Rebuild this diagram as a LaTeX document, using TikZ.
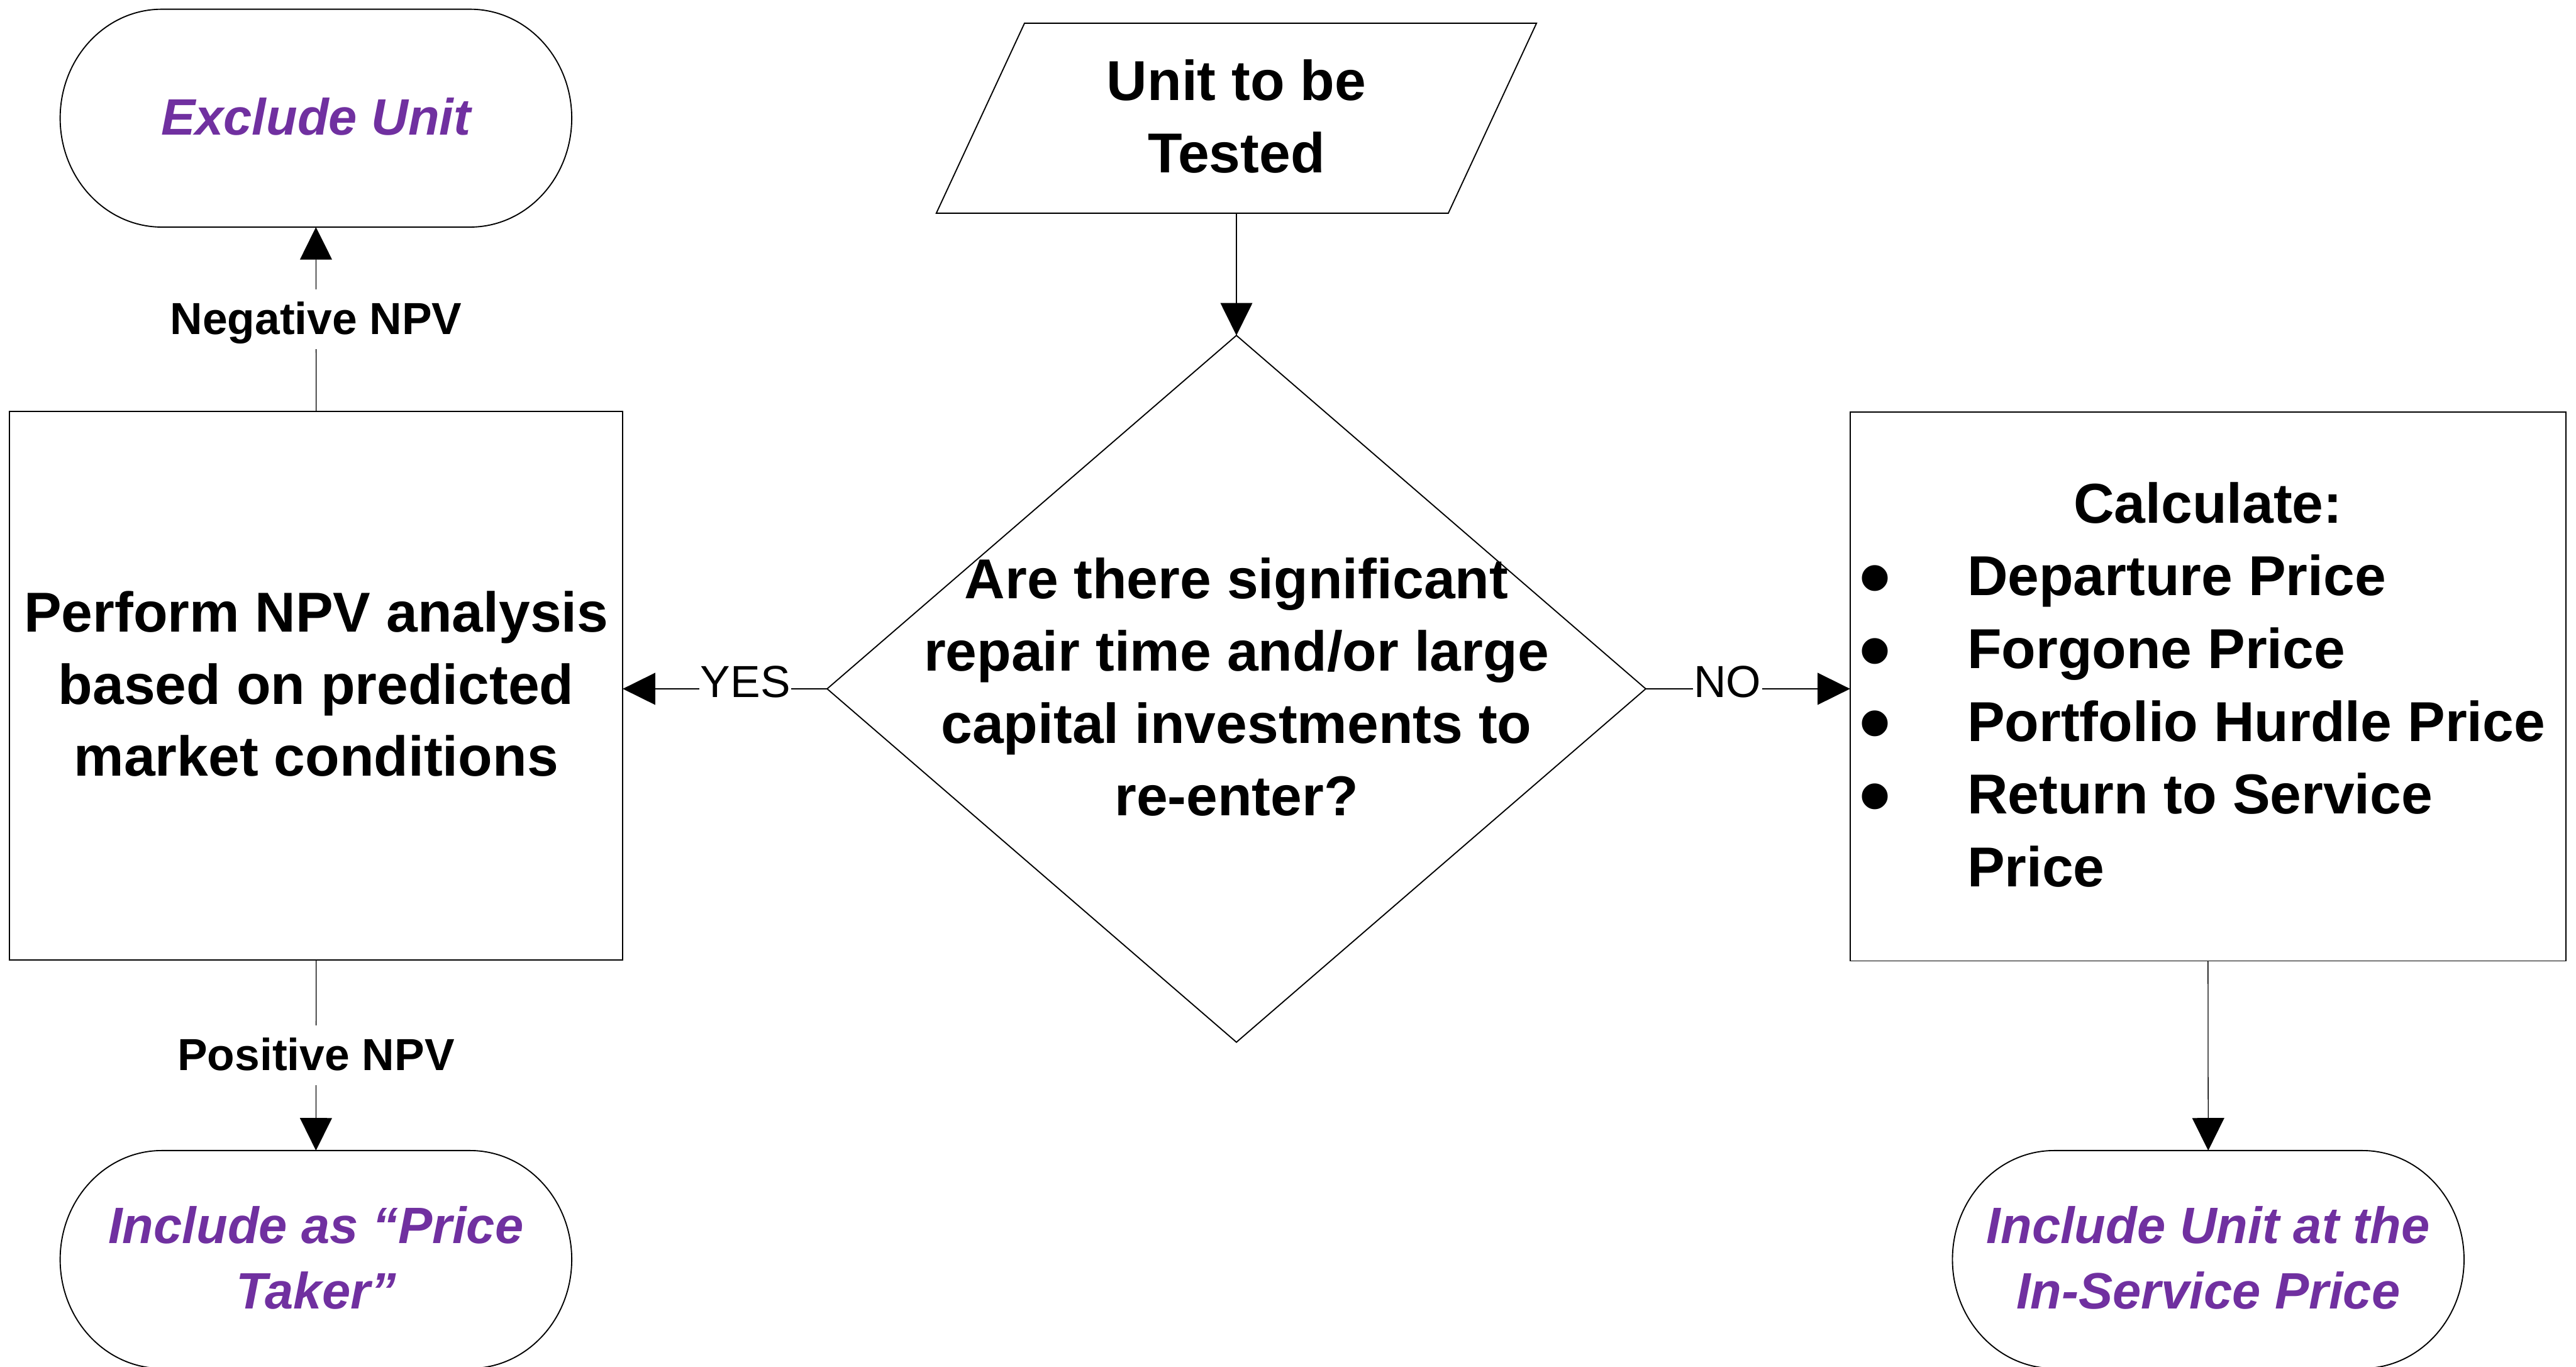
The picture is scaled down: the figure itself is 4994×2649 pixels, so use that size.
\documentclass[tikz,border=0pt]{standalone}
\usepackage{fontspec}
\setmainfont{Liberation Sans}
\usepackage{graphicx}
\usetikzlibrary{shapes.geometric,arrows.meta,calc}
\definecolor{vpurple}{HTML}{7030A0}
\newcommand\vstrut{\rule[-0.30em]{0pt}{1.25em}}
\newcommand\bul{\smash{\raisebox{-0.22em}{\scalebox{1.6}{\textbullet}}}}
\newcommand\termpath[1]{%
  \draw[shapeline] ($(#1.north west)+(197,0)$) -- ($(#1.north east)+(-197,0)$)
    arc[start angle=90,end angle=-90,x radius=1.97cm,y radius=2.11cm]
    -- ($(#1.south west)+(197,0)$)
    arc[start angle=270,end angle=90,x radius=1.97cm,y radius=2.11cm] -- cycle;}
\begin{document}
\begin{tikzpicture}[x=0.01cm,y=-0.01cm,
  every node/.style={outer sep=0pt},
  shapeline/.style={line width=0.65pt, draw=black},
  conn/.style={line width=0.45pt, -{Triangle[length=0.63cm,width=0.62cm]}},
  maintext/.style={font=\fontsize{31}{39.8}\selectfont\bfseries, align=center, inner sep=0pt},
  termtext/.style={font=\fontsize{28.2}{35.85}\selectfont\bfseries\itshape, text=vpurple, align=center, inner sep=0pt, minimum width=9.91cm, minimum height=4.22cm},
  edgelabel/.style={font=\fontsize{24.75}{30}\selectfont\bfseries, fill=white, inner xsep=0.02cm, inner ysep=0pt, text height=0.87cm, text depth=0.28cm},
  yesno/.style={font=\fontsize{24.75}{30}\selectfont, fill=white, inner xsep=0.02cm, inner ysep=0pt, text height=0.70cm, text depth=0.36cm},
]
\path[use as bounding box, fill=white] (0,0) rectangle (4994,2649);

% input parallelogram
\node[maintext, minimum width=9.92cm, minimum height=3.68cm] (unit) at (2397,229) {\vstrut Unit to be\\\vstrut Tested};
\draw[shapeline] ($(unit.north west)+(85.5,0)$) -- ($(unit.north east)+(85.5,0)$)
  -- ($(unit.south east)+(-85.5,0)$) -- ($(unit.south west)+(-85.5,0)$) -- cycle;

% decision
\node[maintext, shape=diamond, draw, shapeline, minimum width=15.86cm, minimum height=13.69cm,
  inner xsep=-8cm, inner ysep=-4cm] (dec) at (2397,1335)
  {\vstrut Are there significant\\\vstrut repair time and/or large\\\vstrut capital investments to\\\vstrut re-enter?};

% NPV process
\node[maintext, draw, shapeline, minimum width=11.88cm, minimum height=10.62cm] (npv) at (613,1329)
  {\vstrut Perform NPV analysis\\\vstrut based on predicted\\\vstrut market conditions};

% Calculate process
\node[maintext, draw, shapeline, align=left, font=\fontsize{31}{40.1}\selectfont\bfseries,
  minimum width=13.87cm, minimum height=10.63cm] (calc) at (4280.5,1330.5)
  {\makebox[13.87cm]{\vstrut Calculate:}\\
   \makebox[2.27cm][l]{\hspace*{0.49cm}\makebox[0pt]{\bul}}\vstrut Departure Price\\
   \makebox[2.27cm][l]{\hspace*{0.49cm}\makebox[0pt]{\bul}}\vstrut Forgone Price\\
   \makebox[2.27cm][l]{\hspace*{0.49cm}\makebox[0pt]{\bul}}\vstrut Portfolio Hurdle Price\\
   \makebox[2.27cm][l]{\hspace*{0.49cm}\makebox[0pt]{\bul}}\vstrut Return to Service\\
   \hspace*{2.27cm}\vstrut Price};

% terminators
\node[termtext] (exc) at (612.5,229) {\vstrut Exclude Unit};
\termpath{exc}
\node[termtext] (inc1) at (612.5,2441) {\vstrut Include as “Price\\\vstrut Taker”};
\termpath{inc1}
\node[termtext] (inc2) at (4281,2441) {\vstrut Include Unit at the\\\vstrut In-Service Price};
\termpath{inc2}

% connectors
\draw[conn] (unit.south) -- (dec.north);
\draw[conn] (dec.west) -- node[yesno, pos=0.4] (lyes) {YES} (dec.west -| npv.east);
\draw[conn] (dec.east) -- node[yesno, pos=0.4] (lno) {NO} (dec.east -| calc.west);
\draw[conn] (npv.north) -- node[edgelabel] (lneg) {Negative NPV} (exc.south);
\draw[conn] (npv.south) -- node[edgelabel] (lpos) {Positive NPV} (inc1.north);
\draw[conn] (calc.south) -- (inc2.north);
\end{tikzpicture}
\end{document}
